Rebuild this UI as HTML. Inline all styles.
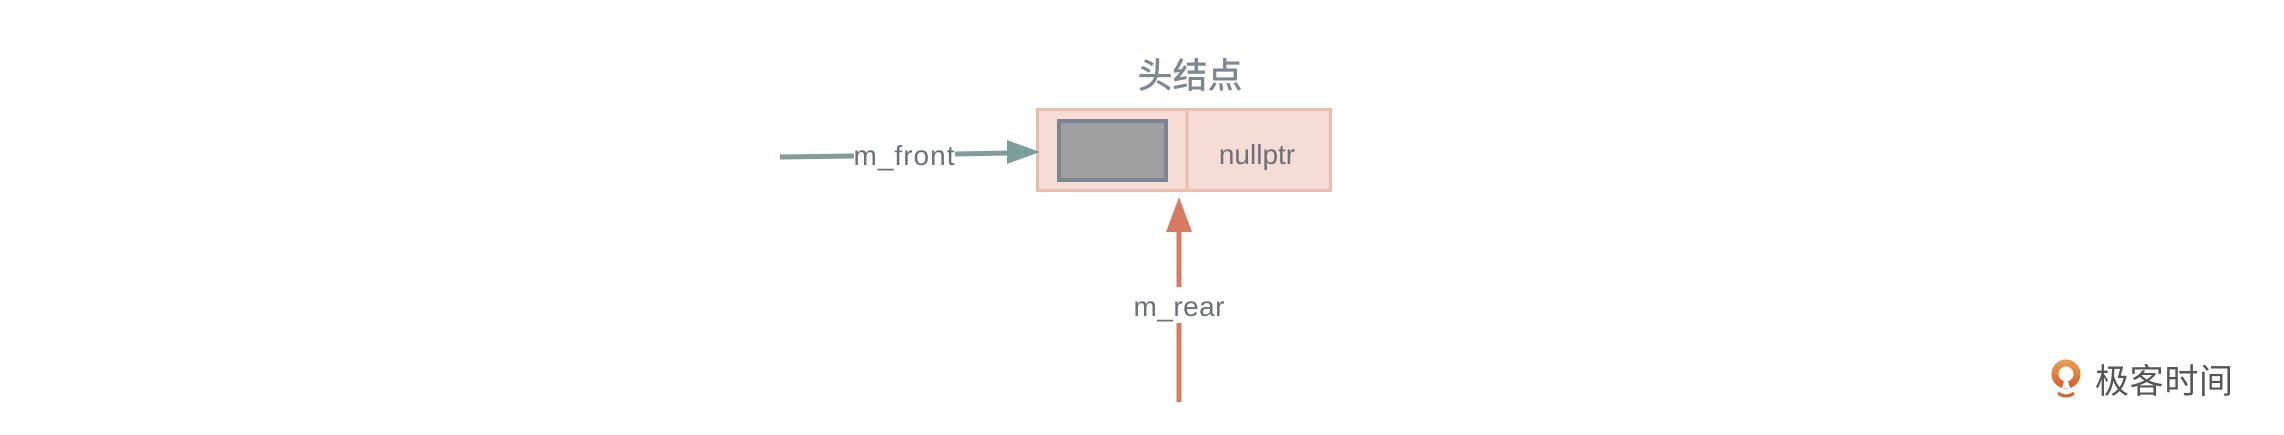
<!DOCTYPE html>
<html><head><meta charset="utf-8"><style>
html,body{margin:0;padding:0;background:#fff;}
body{width:2284px;height:430px;overflow:hidden;}
</style></head><body>
<svg width="2284" height="430" xmlns="http://www.w3.org/2000/svg">
<defs><linearGradient id="g" x1="0" y1="0" x2="0" y2="1"><stop offset="0" stop-color="#eb9a4c"/><stop offset="1" stop-color="#d8632a"/></linearGradient></defs>
<text x="1190" y="88" text-anchor="middle" font-family="Liberation Sans, Noto Sans CJK SC, sans-serif" font-size="35" font-weight="500" fill="#7e8792">头结点</text>
<rect x="1037.5" y="109.5" width="293" height="81" fill="#f5ddd6" stroke="#ebbcad" stroke-width="3"/>
<line x1="1187" y1="109" x2="1187" y2="191" stroke="#ebbcad" stroke-width="3"/>
<rect x="1059" y="121" width="107" height="59" fill="#a0a0a0" stroke="#7c8591" stroke-width="4"/>
<text x="1257" y="164" text-anchor="middle" font-family="Liberation Sans, sans-serif" font-size="28" fill="#6b7079">nullptr</text>
<line x1="780" y1="157" x2="854" y2="156" stroke="#7e9e9b" stroke-width="5"/>
<line x1="955" y1="154" x2="1010" y2="153" stroke="#7e9e9b" stroke-width="5"/>
<polygon points="1007,140 1040,152 1007,164" fill="#7e9e9b"/>
<text x="904" y="165" text-anchor="middle" font-family="Liberation Sans, sans-serif" font-size="28" fill="#6b7079" textLength="101">m_front</text>
<polygon points="1179,197 1192,232 1166,232" fill="#d97b62"/>
<line x1="1179" y1="230" x2="1179" y2="287" stroke="#d97b62" stroke-width="5"/>
<line x1="1179" y1="323" x2="1179" y2="402" stroke="#d97b62" stroke-width="5"/>
<text x="1179" y="316" text-anchor="middle" font-family="Liberation Sans, sans-serif" font-size="28" fill="#6b7079" textLength="91">m_rear</text>
<circle cx="2066" cy="374" r="11" fill="none" stroke="url(#g)" stroke-width="7"/>
<path d="M2058 393 Q2066 399 2074 393" fill="none" stroke="#d8632a" stroke-width="3"/>
<path d="M2066 374 L2062 388 L2070 388 Z" fill="#fff"/>
<text x="2095" y="393" font-family="Liberation Sans, Noto Sans CJK SC, sans-serif" font-size="34" fill="#555" textLength="138">极客时间</text>
</svg>
</body></html>
